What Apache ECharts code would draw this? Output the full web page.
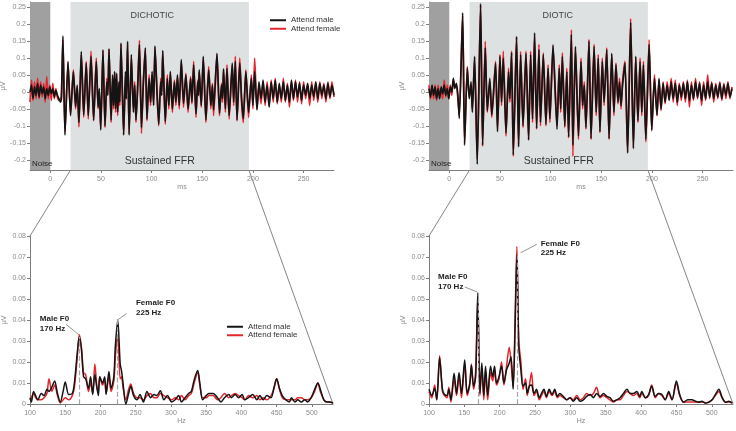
<!DOCTYPE html>
<html>
<head>
<meta charset="utf-8">
<script src="https://cdn.jsdelivr.net/npm/echarts@6/dist/echarts.min.js"></script>
<style>
html, body { margin: 0; padding: 0; background: #fff; }
#chart { width: 736px; height: 431px; }
</style>
</head>
<body>
<div id="chart"></div>
<script>
// time-domain responses (ms, µV)
const dichoticMs = [
  -20, -18.5, -17, -15.5, -14, -12.5, -11, -9.5, -8, -6.5, -5, -3.5, -2, -0.5, 1, 2.5, 4, 5.5, 7, 8.5, 10, 11,
  12.5, 14.5, 17.5, 20, 22.8, 25, 26.6, 28.3, 30.6, 33, 35.5, 37.5, 40.2, 42.8, 45.4, 47.2, 48.4, 49.8,
  52, 54, 55.8, 56.8, 58, 60, 61.5, 62.5, 63.5, 64.5, 65.5, 66.5, 67.8, 68.6, 69.8, 72.4, 74.2, 75, 76.3, 77.8,
  80, 82, 83.3, 84.6, 86.5, 88, 90, 91.8, 93.8, 95.4, 97.5, 99, 100.5, 102, 103.3, 105, 107, 109, 110, 111, 113.5,
  115.5, 117, 118.5, 120.5, 122.5, 124, 125.5, 127.3, 129.3, 131.5, 133.8, 136, 138.5, 139.8, 141.5, 143.8,
  145.5, 146.2, 147, 149, 151, 153.6, 156.3, 158.5, 160, 161.2, 164.5, 167, 169, 170, 171, 172.8, 174.4, 176.5,
  179.6, 181, 182.6, 184.3, 187, 188.8, 190.5, 193, 195.7, 198.4, 200, 201.7, 204,
  206, 208, 210, 212, 214, 216, 218, 220, 222, 224, 226, 228, 230, 232, 234, 236, 238, 240, 242,
  244, 246, 248, 250, 252, 254, 256, 258, 260, 262, 264, 266, 268, 270, 272, 274, 276, 278, 280
];
const dichoticMale = [
  0, 0.02, -0.02, 0.015, -0.01, 0.025, -0.015, 0.02, -0.005, 0.015, -0.02, 0.01, -0.01, 0.015, -0.005, 0.01, -0.015, 0.005, -0.01, -0.02, -0.03, -0.02,
  0.165, -0.127, 0.09, -0.07, 0.06, -0.043, 0.02, -0.09, 0.119, -0.068, 0.085, -0.07, 0.105, -0.083, 0.09, -0.045, 0.01, -0.112,
  0.124, -0.1, 0.03, -0.01, 0.127, -0.083, 0.05, -0.04, 0.06, -0.05, 0.055, -0.06, 0.03, -0.03, 0.144, -0.127, 0.06, -0.02, 0.149, -0.127,
  0.11, -0.06, 0.02, -0.083, 0.03, 0.14, -0.105, 0.02, 0.13, -0.08, 0.04, -0.03, 0.06, -0.04, 0.135, 0.02, -0.095, 0.03, -0.01, 0.122, -0.088,
  0.04, -0.04, 0.06, -0.05, 0.03, -0.03, 0.05, -0.04, 0.095, -0.034, 0.05, -0.05, 0.04, -0.03, 0.08, -0.065,
  0.03, -0.01, 0.065, -0.04, 0.105, -0.083, 0.065, -0.04, 0.02, -0.053, 0.114, -0.063, 0.02, -0.02, 0.068, -0.05, 0.07, -0.07,
  0.085, -0.03, 0.09, -0.083, 0.085, -0.02, -0.078, 0.06, -0.06, 0.04, -0.04, 0.06, -0.053,
  0.03, -0.02, 0.035, -0.03, 0.02, -0.045, 0.03, -0.02, 0.035, -0.03, 0.025, -0.02, 0.03, -0.025, 0.02, -0.03, 0.035, -0.02, 0.03,
  -0.015, 0.025, -0.025, 0.02, -0.01, 0.025, -0.02, 0.02, -0.015, 0.03, -0.02, 0.025, -0.01, 0.02, -0.02, 0.025, -0.015, 0.02, -0.01
];
const dichoticFemale = [
  -0.03, 0.035, -0.025, 0.03, -0.02, 0.04, -0.02, 0.03, -0.015, 0.025, -0.03, 0.045, -0.02, 0.02, -0.025, 0.025, -0.02, 0.01, -0.015, -0.025, -0.02, -0.015,
  0.155, -0.12, 0.085, -0.065, 0.065, -0.05, 0.015, -0.103, 0.11, -0.075, 0.09, -0.08, 0.12, -0.085, 0.1, -0.05, 0, -0.105,
  0.12, -0.105, 0.04, -0.005, 0.125, -0.09, 0.04, -0.05, 0.055, -0.06, 0.05, -0.07, 0.025, -0.04, 0.14, -0.125, 0.05, -0.02, 0.14, -0.12,
  0.1, -0.05, 0.03, -0.09, 0.04, 0.152, -0.122, 0.03, 0.125, -0.085, 0.05, -0.04, 0.05, -0.035, 0.13, 0.03, -0.1, 0.04, 0, 0.115, -0.095,
  0.05, -0.05, 0.055, -0.06, 0.035, -0.04, 0.045, -0.05, 0.09, -0.045, 0.055, -0.06, 0.045, -0.035, 0.09, -0.075,
  0.035, -0.01, 0.06, -0.045, 0.1, -0.09, 0.075, -0.05, 0.025, -0.07, 0.11, -0.07, 0.025, -0.03, 0.065, -0.06, 0.08, -0.08,
  0.08, -0.04, 0.105, -0.085, 0.1, -0.03, -0.09, 0.065, -0.075, 0.05, -0.05, 0.1, -0.05,
  0.02, -0.035, 0.03, -0.04, 0.03, -0.04, 0.035, -0.03, 0.04, -0.035, 0.02, -0.03, 0.04, -0.03, 0.025, -0.045, 0.03, -0.025, 0.035,
  -0.03, 0.03, -0.035, 0.03, -0.02, 0.02, -0.04, 0.03, -0.025, 0.025, -0.03, 0.03, -0.02, 0.025, -0.03, 0.03, -0.02, 0.03, -0.015
];

const dioticMs = [
  -20, -18.5, -17, -15.5, -14, -12.5, -11, -9.5, -8, -6.5, -5, -3.5, -2, -0.5, 1, 2.5, 4, 5.5, 7, 8.5, 9.9,
  13.2, 15.1, 17.8, 19.7, 21.5, 22.8, 25, 27.6, 30.9, 32.9, 35.5, 37.5, 40, 42, 45.7, 47.6, 50, 51.6, 53.3, 56,
  58.5, 59.8, 61.5, 63.2, 66.4, 68.4, 70.4, 72.8, 75.7, 78.3, 80.3, 82.2, 84.2, 86.2, 88.5, 90, 92.8, 95.4, 97.5, 99.3,
  102.4, 106.3, 108.5, 110, 111.6, 114, 116, 117.8, 120.5, 122, 124.5, 127.5, 130, 131.6, 133.2, 134.9, 137.9, 139.9, 142.9, 145,
  147, 148.7, 151, 152.8, 155.4, 157.7, 160.3, 162.5, 164.5, 166.5, 168, 169.5, 171, 173.4, 176, 179, 181.7, 184, 186.2, 188.3,
  190, 191.6, 194, 197.2, 199.8, 202.5, 205, 207,
  209, 211, 213, 215, 217, 219, 221, 223, 225, 227, 229, 231, 233, 235, 237, 239, 241, 243,
  245, 247, 249, 251, 253, 255, 257, 259, 261, 263, 265, 267, 269, 271, 273, 275, 277, 279
];
const dioticMale = [
  0.01, -0.015, 0.02, -0.01, 0.015, -0.02, 0.01, -0.02, 0.015, -0.005, 0.02, -0.01, 0.01, -0.02, 0.015, 0, 0.04, 0.01, 0.025, -0.01, -0.078,
  0.233, -0.157, 0.07, -0.02, 0.03, -0.06, 0.105, -0.213, 0.26, -0.157, 0.13, -0.055, 0.04, -0.068, 0.085, -0.117, 0.105, -0.03, 0.1, -0.122,
  0.06, -0.02, 0.115, -0.185, 0.164, -0.162, 0.11, -0.1, 0.114, -0.142, 0.11, -0.08, 0.174, -0.107, 0.125, -0.09, 0.11, -0.095, 0.07, -0.08,
  0.139, -0.11, 0.07, -0.05, 0.105, -0.1, 0.06, -0.132, 0.17, -0.157, 0.134, -0.13, 0.09, -0.04, 0.02, -0.105, 0.149, -0.137, 0.134, -0.06,
  0.1, -0.117, 0.09, -0.03, 0.124, -0.137, 0.114, -0.06, 0.08, -0.03, 0.03, -0.04, 0.02, 0.085, -0.18, 0.205, -0.167, 0.105, -0.085, 0.09,
  -0.06, 0.08, -0.14, 0.14, -0.112, 0.04, -0.068, 0.04,
  -0.05, 0.025, -0.03, 0.02, -0.025, 0.03, -0.02, 0.025, -0.03, 0.02, -0.015, 0.025, -0.02, 0.03, -0.025, 0.02, -0.02, 0.03,
  -0.015, 0.025, -0.025, 0.02, -0.02, 0.03, -0.015, 0.025, -0.02, 0.02, -0.015, 0.025, -0.02, 0.02, -0.01, 0.025, -0.015, 0.01
];
const dioticFemale = [
  0.02, -0.02, 0.015, -0.02, 0.02, -0.025, 0.02, -0.015, 0.01, -0.02, 0.035, -0.015, 0.02, -0.02, 0.02, -0.01, 0.035, 0.015, 0.02, -0.02, -0.07,
  0.225, -0.15, 0.075, -0.015, 0.02, -0.05, 0.1, -0.2, 0.255, -0.16, 0.149, -0.06, 0.03, -0.075, 0.09, -0.11, 0.11, -0.04, 0.12, -0.13,
  0.07, -0.03, 0.12, -0.19, 0.16, -0.155, 0.119, -0.105, 0.12, -0.14, 0.12, -0.09, 0.165, -0.11, 0.14, -0.1, 0.115, -0.1, 0.08, -0.09,
  0.135, -0.1, 0.08, -0.06, 0.115, -0.105, 0.07, -0.135, 0.183, -0.19, 0.13, -0.14, 0.1, -0.05, 0.03, -0.11, 0.155, -0.14, 0.14, -0.07,
  0.11, -0.12, 0.1, -0.04, 0.13, -0.14, 0.11, -0.07, 0.085, -0.035, 0.04, -0.05, 0.03, 0.09, -0.175, 0.216, -0.16, 0.1, -0.09, 0.1,
  -0.07, 0.09, -0.147, 0.154, -0.115, 0.05, -0.07, 0.035,
  -0.055, 0.03, -0.035, 0.03, -0.02, 0.04, -0.03, 0.035, -0.04, 0.025, -0.025, 0.03, -0.03, 0.035, -0.045, 0.03, -0.025, 0.04,
  -0.02, 0.03, -0.04, 0.03, -0.025, 0.05, -0.02, 0.03, -0.03, 0.025, -0.02, 0.03, -0.025, 0.025, -0.02, 0.03, -0.02, 0.015
];

// spectra of the sustained FFR (Hz, µV)
const dichoticHz = [
  100, 102, 105, 108, 111, 116, 120, 124, 127, 131, 135, 139, 143, 147, 150, 155, 160, 163, 167, 170,
  173, 176, 179, 183, 186, 189, 192, 195, 197, 199, 203, 206, 208, 212, 215, 219, 221, 224.5, 228, 230,
  232, 236, 240, 243, 247, 252, 256, 261, 266, 271, 276, 280, 285, 290, 295, 301, 306, 311, 315, 320,
  325, 329, 333, 338, 341, 345, 350, 354, 360, 366, 371, 376, 382, 386, 391, 396, 401, 405, 410, 416,
  422, 426, 431, 436, 442, 446, 450, 454, 458, 463, 468, 471, 476, 480, 485, 490, 494, 499, 504, 508.5,
  512, 517, 521.5, 525, 530
];
const dichoticSpecMale = [
  0.003, 0.001, 0.006, 0.004, 0.002, 0.005, 0.004, 0.007, 0.006, 0.008, 0.011, 0.005, 0.001, 0.006, 0.0105, 0.0045, 0.005, 0.01, 0.024, 0.032,
  0.026, 0.013, 0.012, 0.0075, 0.013, 0.0045, 0.014, 0.0075, 0.004, 0.013, 0.01, 0.013, 0.0045, 0.0155, 0.0075, 0.013, 0.027, 0.04, 0.019, 0.0155,
  0.01, 0, 0.005, 0.0085, 0.004, 0.002, 0.0045, 0.001, 0.006, 0.003, 0.0045, 0.004, 0.0063, 0.002, 0.004, 0.001, 0.002, 0.004, 0.001, 0.003,
  0.005, 0.006, 0.0115, 0.016, 0.01, 0.002, 0.004, 0.005, 0.005, 0.003, 0.001, 0.003, 0.0045, 0.003, 0.0045, 0.003, 0.0045, 0.002, 0.003, 0.0045,
  0.002, 0.004, 0.002, 0.004, 0.003, 0.0075, 0.012, 0.0075, 0.004, 0.002, 0.001, 0.003, 0.001, 0.002, 0.001, 0.002, 0.001, 0.003, 0.007, 0.01,
  0.007, 0.002, 0.001, 0.001, 0.0005
];
const dichoticSpecFemale = [
  0.002, 0.003, 0.005, 0.003, 0.002, 0.002, 0.003, 0.005, 0.012, 0.006, 0.009, 0.004, 0.0005, 0.002, 0.003, 0.002, 0.004, 0.008, 0.022, 0.033,
  0.027, 0.015, 0.014, 0.006, 0.01, 0.005, 0.019, 0.008, 0.006, 0.013, 0.009, 0.011, 0.005, 0.013, 0.006, 0.011, 0.022, 0.033, 0.012, 0.013,
  0.008, 0.002, 0.007, 0.0095, 0.005, 0.003, 0.003, 0.002, 0.004, 0.005, 0.003, 0.003, 0.005, 0.004, 0.003, 0.002, 0.003, 0.002, 0.004, 0.002,
  0.004, 0.005, 0.01, 0.015, 0.009, 0.003, 0.003, 0.004, 0.004, 0.002, 0.003, 0.005, 0.003, 0.004, 0.005, 0.004, 0.003, 0.002, 0.004, 0.003,
  0.004, 0.002, 0.003, 0.002, 0.004, 0.007, 0.012, 0.007, 0.003, 0.002, 0.002, 0.002, 0.002, 0.003, 0.003, 0.002, 0.002, 0.003, 0.006, 0.01,
  0.006, 0.002, 0.001, 0.001, 0.0005
];

const dioticHz = [
  100, 104, 108, 111, 115, 119, 122, 125.5, 128, 131, 135.5, 139, 142.5, 146, 150.5, 154, 157.7, 160, 163, 166,
  169, 172, 174.7, 177.5, 180, 183, 187, 190, 192.7, 195.5, 199, 202.6, 206, 209.7, 213.5, 216, 219, 222, 224.3, 227,
  230, 233, 236.6, 239, 242, 245, 248.5, 252, 256, 259, 262.6, 266, 270, 274, 277.8, 281.6, 285, 290, 294.8, 299.5,
  304, 309, 313.7, 318.4, 323, 328, 332.6, 337, 342, 346.8, 351.5, 356, 361, 365.7, 370.4, 375, 380, 384.6, 389, 394,
  398, 401, 406, 410.6, 415, 420, 424.8, 429.5, 434, 439, 443.7, 449.9, 454.6, 460, 466, 472, 476.8, 481.6, 486, 491,
  495.7, 500.5, 505, 510, 514.7, 519.4, 524, 528.9
];
const dioticSpecMale = [
  0.007, 0.004, 0.0075, 0.002, 0.022, 0.007, 0.0045, 0.004, 0.007, 0.002, 0.0147, 0.005, 0.015, 0.005, 0.021, 0.005, 0.01, 0.0185, 0.0085, 0.013,
  0.053, 0.005, 0.0195, 0.004, 0.018, 0.004, 0.018, 0.013, 0.018, 0.01, 0.013, 0.018, 0.01, 0.0163, 0.0195, 0.0225, 0.007, 0.04, 0.071, 0.027,
  0.0163, 0.0085, 0.01, 0.005, 0.0085, 0.009, 0.005, 0.007, 0.003, 0.005, 0.007, 0.0036, 0.007, 0.0045, 0.007, 0.0036, 0.005, 0.0036, 0.002, 0.003,
  0.0013, 0.003, 0.0013, 0.002, 0.0036, 0.0045, 0.003, 0.005, 0.0036, 0.005, 0.0036, 0.003, 0.0013, 0.002, 0.003, 0.005, 0.007, 0.005, 0.005, 0.006,
  0.0036, 0.006, 0.003, 0.0045, 0.0085, 0.0036, 0.005, 0.0045, 0.002, 0.006, 0.002, 0.011, 0.0045, 0.0008, 0.002, 0.002, 0.0013, 0.0008, 0.0013, 0.0005,
  0.0008, 0.002, 0.0045, 0.007, 0.003, 0.0008, 0.0013, 0.0005
];
const dioticSpecFemale = [
  0.006, 0.003, 0.009, 0.002, 0.023, 0.006, 0.004, 0.003, 0.008, 0.001, 0.012, 0.004, 0.013, 0.003, 0.019, 0.004, 0.009, 0.019, 0.007, 0.016,
  0.05, 0.004, 0.017, 0.002, 0.016, 0.002, 0.015, 0.011, 0.016, 0.009, 0.012, 0.02, 0.009, 0.018, 0.027, 0.02, 0.008, 0.045, 0.075, 0.03,
  0.02, 0.007, 0.012, 0.004, 0.009, 0.015, 0.004, 0.006, 0.002, 0.004, 0.006, 0.003, 0.006, 0.004, 0.006, 0.003, 0.004, 0.003, 0.002, 0.003,
  0.002, 0.004, 0.002, 0.003, 0.005, 0.004, 0.005, 0.008, 0.003, 0.004, 0.003, 0.002, 0.001, 0.002, 0.002, 0.004, 0.006, 0.005, 0.004, 0.005,
  0.003, 0.005, 0.003, 0.004, 0.009, 0.003, 0.005, 0.004, 0.002, 0.005, 0.002, 0.01, 0.004, 0.001, 0.001, 0.001, 0.001, 0.001, 0.001, 0.0005,
  0.001, 0.002, 0.004, 0.006, 0.003, 0.001, 0.001, 0.0005
];

const msTicks = [0, 50, 100, 150, 200, 250];
const uvTicks = [-0.2, -0.15, -0.1, -0.05, 0, 0.05, 0.1, 0.15, 0.2, 0.25];
const hzTicks = [100, 150, 200, 250, 300, 350, 400, 450, 500];
const specTicks = [0, 0.01, 0.02, 0.03, 0.04, 0.05, 0.06, 0.07, 0.08];
const legendNames = ['Attend male', 'Attend female'];

const FONT = '"Liberation Sans", Arial, sans-serif';
const GRAY = '#8a8a8a';
const RED = '#e4262c';
const BLACK = '#141414';

const pairs = (xs, ys) => xs.map((x, i) => [x, ys[i]]);

const peakNear = (xs, ys, target) => {
  let best = 0;
  xs.forEach((x, i) => { if (Math.abs(x - target) < Math.abs(xs[best] - target)) best = i; });
  return [xs[best], ys[best]];
};

function xAxisCfg(gridIndex, min, max, ticks, name, nameGap) {
  return {
    type: 'value', gridIndex, min, max, name, nameLocation: 'middle', nameGap,
    nameTextStyle: { fontSize: 7, color: GRAY, fontFamily: FONT },
    axisLine: { onZero: false, lineStyle: { color: '#7d7d7d', width: 1 } },
    axisTick: { length: 3, customValues: ticks, lineStyle: { color: '#7d7d7d' } },
    axisLabel: { customValues: ticks, fontSize: 7, color: GRAY, margin: 6, fontFamily: FONT },
    splitLine: { show: false }
  };
}

function yAxisCfg(gridIndex, min, max, ticks) {
  return {
    type: 'value', gridIndex, min, max, name: 'µV', nameLocation: 'middle', nameGap: 22, nameRotate: 90,
    nameTextStyle: { fontSize: 7, color: GRAY, fontFamily: FONT },
    axisLine: { show: true, onZero: false, lineStyle: { color: '#7d7d7d', width: 1 } },
    axisTick: { show: true, length: 3, customValues: ticks, lineStyle: { color: '#7d7d7d' } },
    axisLabel: { customValues: ticks, fontSize: 7, color: GRAY, margin: 4, fontFamily: FONT },
    splitLine: { show: false }
  };
}

function bands() {
  return {
    silent: true,
    data: [
      [{ xAxis: -20, itemStyle: { color: '#a0a0a0' },
         label: { show: true, position: 'insideBottomLeft', formatter: 'Noise', fontSize: 8, color: '#222', distance: 2, fontFamily: FONT } },
       { xAxis: 0 }],
      [{ xAxis: 20, itemStyle: { color: '#dee1e1' },
         label: { show: true, position: 'insideBottom', formatter: 'Sustained FFR', fontSize: 10.5, color: '#333', distance: 3, fontFamily: FONT } },
       { xAxis: 196 }]
    ]
  };
}

function wave(name, color, idx, data, extra) {
  return Object.assign({
    name, type: 'line', xAxisIndex: idx, yAxisIndex: idx, data,
    symbol: 'none', showSymbol: false, silent: true, animation: false, smooth: 0.2,
    itemStyle: { color }, lineStyle: { color, width: 1.7 }
  }, extra || {});
}

function spectrumMarks(hz, vals, maleText, femaleText) {
  const mp = peakNear(hz, vals, 170);
  const fp = peakNear(hz, vals, 225);
  const dashed = { type: 'dashed', color: '#a5a5a5', width: 1.2 };
  const leader = { type: 'solid', color: '#7a7a7a', width: 0.8 };
  return {
    markLine: {
      silent: true, symbol: ['none', 'none'], label: { show: false }, animation: false,
      data: [
        [{ coord: [mp[0], 0], lineStyle: dashed }, { coord: mp }],
        [{ coord: [fp[0], 0], lineStyle: dashed }, { coord: fp }],
        [{ coord: maleText.from, lineStyle: leader }, { coord: maleText.to }],
        [{ coord: femaleText.from, lineStyle: leader }, { coord: femaleText.to }]
      ]
    },
    markPoint: {
      silent: true, symbol: 'circle', symbolSize: 0, animation: false,
      label: { show: true, position: 'right', distance: 0, fontSize: 8, fontWeight: 'bold', color: '#222', lineHeight: 9.5, fontFamily: FONT },
      data: [
        { coord: maleText.at, label: { formatter: 'Male F0\n170 Hz' } },
        { coord: femaleText.at, label: { formatter: 'Female F0\n225 Hz' } }
      ]
    }
  };
}

const legendBase = {
  data: legendNames, orient: 'vertical', padding: 0, itemGap: 0, icon: 'rect',
  itemWidth: 16, itemHeight: 2, selectedMode: false,
  textStyle: { fontSize: 8, color: '#333', lineHeight: 8.5, fontFamily: FONT }
};

const ctx = document.getElementById('chart');
const chart = echarts.init(ctx, null, { renderer: 'canvas' });

const option = {
  animation: false,
  textStyle: { fontFamily: FONT },
  grid: [
    { left: 30, top: 2, width: 304, height: 168, outerBoundsMode: 'none' },
    { left: 429, top: 2, width: 304, height: 168, outerBoundsMode: 'none' },
    { left: 30, top: 236, width: 303, height: 168, outerBoundsMode: 'none' },
    { left: 429, top: 236, width: 304, height: 168, outerBoundsMode: 'none' }
  ],
  xAxis: [
    xAxisCfg(0, -20, 280, msTicks, 'ms', 14),
    xAxisCfg(1, -20, 280, msTicks, 'ms', 14),
    xAxisCfg(2, 100, 530, hzTicks, 'Hz', 12),
    xAxisCfg(3, 100, 530, hzTicks, 'Hz', 12)
  ],
  yAxis: [
    yAxisCfg(0, -0.23, 0.265, uvTicks),
    yAxisCfg(1, -0.23, 0.265, uvTicks),
    yAxisCfg(2, 0, 0.08, specTicks),
    yAxisCfg(3, 0, 0.08, specTicks)
  ],
  legend: [
    Object.assign({ left: 270, top: 16 }, legendBase),
    Object.assign({ left: 227, top: 322.5 }, legendBase)
  ],
  series: [
    wave('Attend female', RED, 0, pairs(dichoticMs, dichoticFemale), { markArea: bands() }),
    wave('Attend male', BLACK, 0, pairs(dichoticMs, dichoticMale)),
    wave('Attend female', RED, 1, pairs(dioticMs, dioticFemale), { markArea: bands() }),
    wave('Attend male', BLACK, 1, pairs(dioticMs, dioticMale)),
    wave('Attend female', RED, 2, pairs(dichoticHz, dichoticSpecFemale), { smooth: 0.3, lineStyle: { color: RED, width: 1.5 } }),
    wave('Attend male', BLACK, 2, pairs(dichoticHz, dichoticSpecMale), Object.assign({ smooth: 0.3, lineStyle: { color: BLACK, width: 1.5 } },
      spectrumMarks(dichoticHz, dichoticSpecMale,
        { at: [114, 0.0383], from: [151, 0.038], to: [169.5, 0.0329] },
        { at: [250.4, 0.0459], from: [237.2, 0.0431], to: [224, 0.0400] }))),
    wave('Attend female', RED, 3, pairs(dioticHz, dioticSpecFemale), { smooth: 0.3, lineStyle: { color: RED, width: 1.5 } }),
    wave('Attend male', BLACK, 3, pairs(dioticHz, dioticSpecMale), Object.assign({ smooth: 0.3, lineStyle: { color: BLACK, width: 1.5 } },
      spectrumMarks(dioticHz, dioticSpecMale,
        { at: [112.8, 0.0582], from: [150.6, 0.0557], to: [168, 0.0534] },
        { at: [258, 0.0742], from: [252.3, 0.076], to: [229.6, 0.072] })))
  ]
};

chart.setOption(option);

// zoom connectors and panel titles, placed through the axes
const px = (g, v) => chart.convertToPixel({ gridIndex: g }, v);
const connector = (a, b) => ({
  type: 'line', silent: true, z: 0,
  shape: { x1: a[0], y1: a[1], x2: b[0], y2: b[1] },
  style: { stroke: '#666', lineWidth: 0.8 }
});
const title = (p, text) => ({
  type: 'text', silent: true, z: 20, x: p[0], y: p[1],
  style: { text, align: 'center', verticalAlign: 'middle', fontSize: 9, fill: '#444', fontFamily: FONT }
});

chart.setOption({
  graphic: [
    connector(px(0, [20, -0.23]), px(2, [100, 0.08])),
    connector(px(0, [196, -0.23]), px(2, [530, 0])),
    connector(px(1, [20, -0.23]), px(3, [100, 0.08])),
    connector(px(1, [196, -0.23]), px(3, [530, 0])),
    title(px(0, [100.7, 0.226]), 'DICHOTIC'),
    title(px(1, [107, 0.226]), 'DIOTIC')
  ]
});
</script>
</body>
</html>
